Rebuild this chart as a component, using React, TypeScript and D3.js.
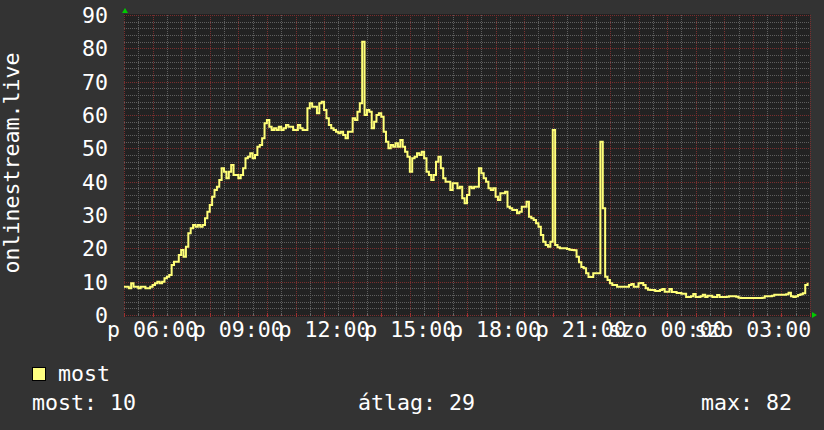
import React from "react";
import * as d3 from "d3";

// 5-minute samples, one row per hour, starting Friday 05:00
const hourly: number[][] = [
  [8.5, 8.5, 8, 9.5, 8.5, 8.5, 8, 8.5, 8.5, 8, 8, 8.5],
  [9, 9.5, 10, 9.5, 10, 11, 11.5, 12, 15, 16, 16, 18],
  [19.5, 17.5, 20.5, 24.5, 26, 27, 26.5, 27, 26.5, 27, 29, 31],
  [33, 35.5, 37.5, 38.5, 40.5, 44, 43, 41, 43, 45, 42, 42],
  [41, 42, 44, 47, 47.5, 48.5, 47, 48, 50.5, 51, 53, 57.5],
  [58.5, 56.5, 55.5, 56, 55.5, 56.5, 55.5, 56, 57, 56.5, 56.5, 55.5],
  [55.5, 57, 56, 55.5, 55.5, 62, 63.5, 62.5, 62.5, 60.5, 63.5, 64],
  [61.5, 59, 57, 56, 55.5, 55, 54.5, 55, 54, 53, 55, 55],
  [59, 58.5, 61, 63.5, 82, 60, 61.5, 61, 56, 58, 60, 60.5],
  [59.5, 55, 52, 50, 51, 50.5, 51.5, 50.5, 52.5, 50.5, 49, 47.5],
  [43, 47, 47.5, 48.5, 48, 49, 47, 43, 42, 40.5, 42, 46],
  [47.5, 44, 41, 40, 40, 37.5, 39.5, 39.5, 38, 38.5, 35, 33.5],
  [36, 38.5, 38, 38.5, 38.5, 44, 42.5, 41, 40, 38, 37.5, 38],
  [35.5, 34.5, 36.5, 36.5, 37, 32.5, 32, 31.5, 31.5, 30.5, 31, 32.5],
  [32.5, 34, 29.5, 29, 28.5, 27.5, 26.5, 24, 22, 21, 20.5, 22],
  [55.5, 21, 20.3, 20, 20, 20, 19.8, 19.6, 19.5, 19.4, 17.5, 15.8],
  [14.4, 14, 12.5, 11.4, 11.4, 12.5, 12.5, 12.5, 52, 32, 11.5, 10.5],
  [9.5, 9, 9, 8.5, 8.5, 8.5, 8.5, 8.5, 9, 9.3, 8.5, 8.5],
  [9.5, 9.6, 9, 8, 7.6, 7.5, 7.5, 7.2, 7.2, 7.5, 7.8, 7],
  [7, 7.8, 6.9, 6.9, 6.6, 6.6, 6.4, 6.4, 5.4, 5.4, 5.6, 6.3],
  [5.4, 5.4, 5.6, 6.1, 5.4, 5.8, 5.8, 5.4, 5.4, 6, 5.4, 5.4],
  [5.4, 5.5, 5.6, 5.6, 5.6, 5.5, 5.2, 5.1, 5.1, 5.1, 5.1, 5.1],
  [5.1, 5.1, 5.1, 5.1, 5.2, 5.6, 5.6, 5.6, 5.8, 6.1, 6.1, 6.1],
  [6.1, 6.1, 6.2, 6.7, 5.6, 5.4, 5.6, 6, 6.2, 6.5, 9, 9.7],
];

const yTicks = [0, 10, 20, 30, 40, 50, 60, 70, 80, 90];
const xLabelHours = [1, 4, 7, 10, 13, 16, 19, 22]; // hours after start
const xLabels = ["p 06:00", "p 09:00", "p 12:00", "p 15:00", "p 18:00", "p 21:00", "szo 00:00", "szo 03:00"];
const yTitle = "onlinestream.live";
const seriesName = "most";
const legendStats = ["most: 10", "átlag: 29", "max: 82"];

const START = new Date(2024, 0, 5, 5, 0, 0);
const END = new Date(2024, 0, 6, 5, 0, 0);

export default function App() {
  const values = hourly.flat();
  const data = values.map((v, i) => ({ t: new Date(START.getTime() + i * 5 * 60000), v }));

  const L = 124, R = 810, T = 15, B = 315;
  const x = d3.scaleTime().domain([START, END]).range([L, R]);
  const y = d3.scaleLinear().domain([0, 90]).range([B, T]);

  const line = d3
    .line<{ t: Date; v: number }>()
    .x((d) => x(d.t))
    .y((d) => y(d.v))
    .curve(d3.curveStepAfter);

  const minorY = d3.range(0, 91, 2).filter((v) => v % 10 !== 0);
  const halfHours = d3.timeMinute.every(30)!.range(START, new Date(END.getTime() + 1));
  const minorX = halfHours.filter((d) => d.getMinutes() === 30);
  const majorX = halfHours.filter((d) => d.getMinutes() === 0);

  const py = (v: number) => Math.round(y(v)) + 0.5;
  const px = (d: Date) => Math.round(x(d)) + 0.5;

  const font = "'DejaVu Sans Mono', monospace";
  const fs = 21.6;

  return (
    <svg
      width={824}
      height={430}
      style={{ position: "absolute", left: 0, top: 0, display: "block" }}
      fontFamily={font}
    >
      <rect x={0} y={0} width={824} height={430} fill="#333333" />
      <rect x={L} y={T - 1} width={R - L} height={B - T + 3} fill="#222222" />

      {/* minor grid */}
      {minorY.map((v) => (
        <line key={"my" + v} x1={L} x2={R} y1={py(v)} y2={py(v)} stroke="#5e5e5e" strokeDasharray="1,1" />
      ))}
      {minorX.map((d, i) => (
        <line key={"mx" + i} x1={px(d)} x2={px(d)} y1={T} y2={B} stroke="#5e5e5e" strokeDasharray="1,1" />
      ))}
      {/* major grid */}
      {yTicks.map((v) => (
        <line key={"My" + v} x1={L} x2={R} y1={py(v)} y2={py(v)} stroke="#7a2e2e" strokeDasharray="1,1" />
      ))}
      {majorX.map((d, i) => (
        <line key={"Mx" + i} x1={px(d)} x2={px(d)} y1={T} y2={B} stroke="#7a2e2e" strokeDasharray="1,1" />
      ))}
      {/* ticks */}
      {majorX.map((d, i) => (
        <line key={"tk" + i} x1={px(d)} x2={px(d)} y1={B - 2} y2={B + 2} stroke="#a03030" />
      ))}
      {minorX.map((d, i) => (
        <line key={"tkm" + i} x1={px(d)} x2={px(d)} y1={B - 1} y2={B + 1} stroke="#666" />
      ))}

      {/* data line */}
      <path d={line(data) || ""} fill="none" stroke="#ffff78" strokeWidth={2} strokeLinejoin="miter" />

      {/* arrows */}
      <polygon points={`${L - 2},13 ${L + 4},13 ${L + 1},8`} fill="#00cc00" />
      <polygon points={`${R + 2},312 ${R + 2},318 ${R + 7},315`} fill="#00cc00" />

      {/* y labels */}
      {yTicks.map((v) => (
        <text key={"yl" + v} x={108} y={y(v) + 8} textAnchor="end" fill="#ffffff" fontSize={fs}>
          {v}
        </text>
      ))}
      {/* x labels */}
      {xLabelHours.map((h, i) => (
        <text
          key={"xl" + i}
          x={x(new Date(START.getTime() + h * 3600000))}
          y={337}
          textAnchor="middle"
          fill="#ffffff"
          fontSize={fs}
        >
          {xLabels[i]}
        </text>
      ))}
      {/* y title */}
      <text transform="translate(19,163) rotate(-90)" textAnchor="middle" fill="#ffffff" fontSize={fs}>
        {yTitle}
      </text>

      {/* legend */}
      <rect x={32.5} y={367.5} width={13} height={13} fill="#ffff80" stroke="#000" strokeWidth={1} />
      <text x={58} y={381} fill="#ffffff" fontSize={fs}>
        {seriesName}
      </text>
      <text x={32} y={409.5} fill="#ffffff" fontSize={fs}>
        {legendStats[0]}
      </text>
      <text x={358} y={409.5} fill="#ffffff" fontSize={fs}>
        {legendStats[1]}
      </text>
      <text x={701} y={409.5} fill="#ffffff" fontSize={fs}>
        {legendStats[2]}
      </text>
    </svg>
  );
}
